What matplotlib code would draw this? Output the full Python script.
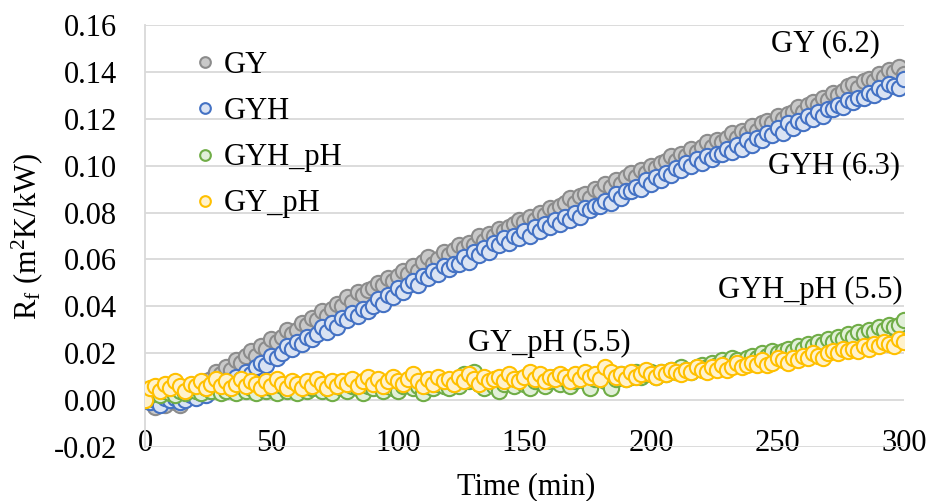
import numpy as np
import matplotlib
matplotlib.use('Agg')
import matplotlib.pyplot as plt

plt.rcParams['font.family'] = 'Liberation Serif'
plt.rcParams['mathtext.fontset'] = 'custom'
plt.rcParams['mathtext.rm'] = 'Liberation Serif'
plt.rcParams['mathtext.it'] = 'Liberation Serif:italic'

# time (min), one reading every 2 min
time = np.arange(0, 302, 2)

# fouling resistance Rf (m2K/kW)
GY = [0.000, -0.001, -0.003, -0.001, -0.002, 0.000, -0.001, -0.002, 0.001, 0.003,
      0.005, 0.004, 0.008, 0.009, 0.012, 0.011, 0.014, 0.013, 0.017, 0.016,
      0.019, 0.021, 0.019, 0.023, 0.022, 0.026, 0.025, 0.027, 0.030, 0.028,
      0.030, 0.033, 0.032, 0.035, 0.034, 0.038, 0.036, 0.039, 0.041, 0.040,
      0.044, 0.042, 0.046, 0.045, 0.047, 0.048, 0.050, 0.049, 0.052, 0.051,
      0.053, 0.055, 0.054, 0.057, 0.055, 0.059, 0.061, 0.058, 0.060, 0.063,
      0.062, 0.064, 0.066, 0.065, 0.067, 0.066, 0.070, 0.068, 0.071, 0.070,
      0.073, 0.072, 0.074, 0.075, 0.077, 0.076, 0.078, 0.077, 0.080, 0.079,
      0.082, 0.081, 0.083, 0.084, 0.086, 0.084, 0.087, 0.088, 0.086, 0.090,
      0.089, 0.092, 0.091, 0.094, 0.092, 0.095, 0.097, 0.095, 0.098, 0.097,
      0.100, 0.099, 0.101, 0.102, 0.104, 0.102, 0.105, 0.104, 0.107, 0.106,
      0.108, 0.110, 0.108, 0.111, 0.110, 0.112, 0.114, 0.112, 0.115, 0.114,
      0.117, 0.115, 0.118, 0.119, 0.118, 0.121, 0.120, 0.122, 0.123, 0.125,
      0.123, 0.126, 0.127, 0.126, 0.129, 0.128, 0.131, 0.130, 0.132, 0.134,
      0.135, 0.133, 0.136, 0.137, 0.136, 0.139, 0.138, 0.141, 0.140, 0.142,
      0.139]

GYH = [0.000, -0.001, 0.000, -0.002, 0.001, 0.000, 0.001, -0.001, 0.000, 0.002,
       0.001, 0.003, 0.002, 0.004, 0.005, 0.005, 0.008, 0.007, 0.010, 0.009,
       0.012, 0.011, 0.014, 0.016, 0.015, 0.019, 0.018, 0.020, 0.023, 0.022,
       0.025, 0.024, 0.027, 0.026, 0.028, 0.031, 0.029, 0.033, 0.031, 0.035,
       0.034, 0.037, 0.036, 0.039, 0.038, 0.040, 0.043, 0.041, 0.045, 0.044,
       0.048, 0.046, 0.049, 0.051, 0.049, 0.053, 0.052, 0.055, 0.054, 0.057,
       0.056, 0.058, 0.058, 0.061, 0.059, 0.063, 0.062, 0.065, 0.063, 0.067,
       0.066, 0.069, 0.067, 0.070, 0.069, 0.072, 0.070, 0.074, 0.072, 0.075,
       0.074, 0.077, 0.075, 0.078, 0.077, 0.080, 0.078, 0.082, 0.081, 0.083,
       0.083, 0.085, 0.084, 0.088, 0.086, 0.089, 0.089, 0.091, 0.090, 0.094,
       0.092, 0.095, 0.094, 0.097, 0.096, 0.099, 0.098, 0.101, 0.100, 0.103,
       0.101, 0.104, 0.103, 0.105, 0.105, 0.107, 0.106, 0.109, 0.107, 0.111,
       0.109, 0.112, 0.111, 0.114, 0.113, 0.116, 0.114, 0.118, 0.116, 0.119,
       0.118, 0.121, 0.120, 0.123, 0.121, 0.124, 0.124, 0.126, 0.125, 0.128,
       0.127, 0.129, 0.129, 0.131, 0.130, 0.133, 0.132, 0.135, 0.134, 0.133,
       0.137]

GYH_pH = [0.000, 0.002, 0.003, 0.002, 0.004, 0.003, 0.002, 0.004, 0.003, 0.005,
          0.004, 0.003, 0.005, 0.004, 0.006, 0.003, 0.004, 0.005, 0.003, 0.006,
          0.004, 0.005, 0.003, 0.006, 0.004, 0.005, 0.003, 0.006, 0.004, 0.005,
          0.003, 0.006, 0.004, 0.005, 0.007, 0.004, 0.005, 0.003, 0.006, 0.005,
          0.004, 0.006, 0.005, 0.003, 0.006, 0.005, 0.007, 0.004, 0.006, 0.005,
          0.004, 0.006, 0.007, 0.005, 0.006, 0.003, 0.006, 0.005, 0.007, 0.006,
          0.005, 0.007, 0.006, 0.011, 0.008, 0.012, 0.007, 0.005, 0.008, 0.006,
          0.004, 0.007, 0.008, 0.006, 0.009, 0.007, 0.005, 0.008, 0.009, 0.006,
          0.008, 0.010, 0.007, 0.009, 0.006, 0.008, 0.010, 0.008, 0.005, 0.009,
          0.010, 0.008, 0.005, 0.009, 0.011, 0.009, 0.010, 0.012, 0.010, 0.011,
          0.012, 0.010, 0.012, 0.011, 0.013, 0.012, 0.014, 0.013, 0.012, 0.014,
          0.015, 0.014, 0.016, 0.015, 0.017, 0.016, 0.018, 0.017, 0.016, 0.018,
          0.019, 0.018, 0.020, 0.019, 0.021, 0.020, 0.021, 0.022, 0.021, 0.023,
          0.022, 0.024, 0.023, 0.025, 0.024, 0.026, 0.025, 0.027, 0.026, 0.028,
          0.027, 0.029, 0.028, 0.030, 0.029, 0.031, 0.030, 0.032, 0.031, 0.032,
          0.034]

GY_pH = [0.000, 0.005, 0.006, 0.004, 0.007, 0.005, 0.008, 0.006, 0.004, 0.007,
         0.006, 0.008, 0.005, 0.007, 0.009, 0.006, 0.008, 0.005, 0.007, 0.009,
         0.006, 0.008, 0.007, 0.005, 0.008, 0.006, 0.009, 0.007, 0.005, 0.008,
         0.007, 0.005, 0.008, 0.006, 0.009, 0.007, 0.005, 0.008, 0.006, 0.008,
         0.007, 0.009, 0.006, 0.008, 0.010, 0.007, 0.009, 0.006, 0.008, 0.010,
         0.008, 0.007, 0.009, 0.011, 0.008, 0.006, 0.009, 0.007, 0.010, 0.008,
         0.009, 0.007, 0.010, 0.008, 0.011, 0.009, 0.007, 0.010, 0.008, 0.009,
         0.010, 0.008, 0.011, 0.009, 0.008, 0.010, 0.012, 0.009, 0.011, 0.008,
         0.010, 0.009, 0.011, 0.010, 0.008, 0.011, 0.009, 0.012, 0.010, 0.011,
         0.009, 0.014, 0.012, 0.010, 0.011, 0.009, 0.012, 0.010, 0.011, 0.013,
         0.011, 0.010, 0.012, 0.011, 0.013, 0.012, 0.011, 0.013, 0.012, 0.014,
         0.013, 0.012, 0.014, 0.013, 0.015, 0.013, 0.014, 0.016, 0.014, 0.015,
         0.016, 0.015, 0.017, 0.015, 0.016, 0.018, 0.017, 0.016, 0.018, 0.017,
         0.019, 0.018, 0.020, 0.019, 0.018, 0.020, 0.021, 0.020, 0.022, 0.021,
         0.022, 0.021, 0.023, 0.022, 0.024, 0.023, 0.025, 0.024, 0.023, 0.026,
         0.025]

labels = ['GY', 'GYH', 'GYH_pH', 'GY_pH']
series = [GY, GYH, GYH_pH, GY_pH]
edge_col = ['#8c8c8c', '#4472c4', '#70ad47', '#ffc000']
face_col = ['#c9c9c9', '#dae3f3', '#e2f0d9', '#fff2cc']

# end labels (text, x, y)
notes = [('GY (6.2)', 269, 0.152),
         ('GYH (6.3)', 272.5, 0.100),
         ('GYH_pH (5.5)', 263, 0.0468),
         ('GY_pH (5.5)', 160, 0.0243)]

fs = 22

fig = plt.figure(figsize=(9.28, 5.01), dpi=100)
ax = fig.add_axes([145/928, 1-447/501, 759/928, 422/501])

for lab, s, ec, fc in zip(labels, series, edge_col, face_col):
    ax.plot(time, s, 'o', ms=11, mfc=fc, mec=ec, mew=1.5, label=lab, zorder=3)

for txt, xx, yy in notes:
    ax.text(xx, yy, txt, fontsize=fs, ha='center', va='center')

ax.set_xlim(0, 300)
ax.set_ylim(-0.02, 0.16)
ax.set_xticks(np.arange(0, 301, 50))
ax.set_yticks(np.arange(-0.02, 0.161, 0.02))
ax.set_yticklabels(['%.2f' % v for v in np.arange(-0.02, 0.161, 0.02)])
ax.grid(axis='y', color='#d9d9d9', lw=1.3, zorder=0)
ax.set_axisbelow(True)
for sp in ['top', 'right', 'bottom']:
    ax.spines[sp].set_visible(False)
ax.spines['left'].set_color('#d9d9d9')
ax.spines['left'].set_linewidth(1.3)
ax.tick_params(axis='both', length=0, labelsize=fs)
ax.tick_params(axis='y', pad=20)
ax.tick_params(axis='x', pad=-13)

fig.text(526/928, 1-487/501, 'Time (min)', fontsize=fs, ha='center', va='center')
fig.text(27/928, 1-237/501, r'R$_\mathregular{f}$ (m$^\mathregular{2}$K/kW)',
         fontsize=fs, rotation=90, ha='center', va='center')

leg = ax.legend(loc='upper left', bbox_to_anchor=((196-145)/759, (447-51)/422),
                frameon=False, fontsize=fs, handlelength=0.6, handletextpad=0.3,
                borderpad=0, borderaxespad=0, labelspacing=0.56, markerscale=0.7)

plt.savefig('out.png', dpi=100)
